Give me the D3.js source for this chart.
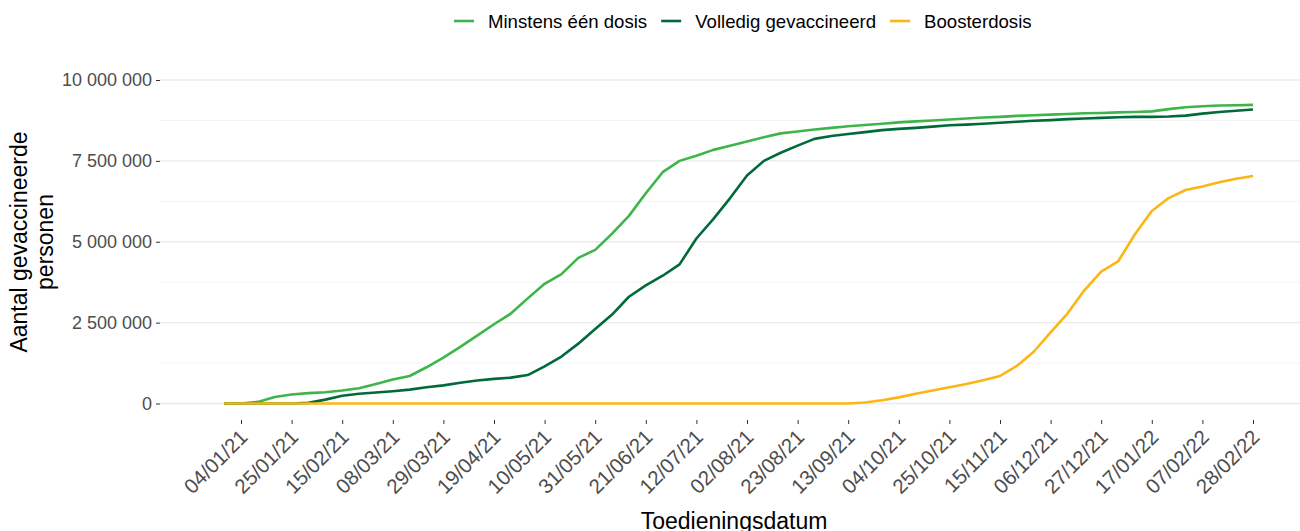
<!DOCTYPE html>
<html>
<head>
<meta charset="utf-8">
<script src="https://cdn.jsdelivr.net/npm/d3@7"></script>
<style>
body { margin: 0; background: #fff; }
* { font-family: 'Liberation Sans', Arial, sans-serif; }
</style>
</head>
<body>
<svg id="chart" width="1300" height="531"></svg>
<script>
// weekly readings (Mondays), values in millions
const weeks = d3.range(62).map(i => d3.utcDay.offset(new Date(Date.UTC(2020, 11, 28)), i * 7));

const eenDosis = [0, 0, 0.05, 0.2, 0.28, 0.32, 0.35, 0.4, 0.47, 0.6,
  0.74, 0.85, 1.12, 1.42, 1.75, 2.1, 2.45, 2.78, 3.25, 3.7,
  4.0, 4.5, 4.75, 5.25, 5.8, 6.5, 7.15, 7.5, 7.66, 7.84,
  7.97, 8.1, 8.23, 8.35, 8.41, 8.47, 8.52, 8.57, 8.61, 8.65,
  8.69, 8.72, 8.75, 8.78, 8.81, 8.84, 8.86, 8.89, 8.91, 8.93,
  8.95, 8.97, 8.98, 9.0, 9.01, 9.03, 9.1, 9.16, 9.19, 9.21,
  9.22, 9.23];

const volledig = [0, 0, 0, 0, 0, 0.02, 0.12, 0.24, 0.3, 0.34,
  0.38, 0.43, 0.5, 0.56, 0.64, 0.71, 0.76, 0.8, 0.88, 1.15,
  1.45, 1.85, 2.3, 2.75, 3.3, 3.65, 3.95, 4.3, 5.1, 5.7,
  6.35, 7.05, 7.5, 7.75, 7.97, 8.18, 8.27, 8.33, 8.39, 8.45,
  8.49, 8.52, 8.56, 8.6, 8.62, 8.65, 8.68, 8.71, 8.74, 8.76,
  8.79, 8.81, 8.83, 8.85, 8.86, 8.86, 8.87, 8.9, 8.96, 9.01,
  9.05, 9.09];

const booster = [0, 0, 0, 0, 0, 0, 0, 0, 0, 0,
  0, 0, 0, 0, 0, 0, 0, 0, 0, 0,
  0, 0, 0, 0, 0, 0, 0, 0, 0, 0,
  0, 0, 0, 0, 0, 0, 0, 0, 0.03, 0.1,
  0.19, 0.3, 0.4, 0.5, 0.6, 0.72, 0.85, 1.16, 1.6, 2.2,
  2.78, 3.5, 4.08, 4.39, 5.23, 5.95, 6.35, 6.6, 6.71, 6.84,
  6.95, 7.03];

const seriesNames = ['Minstens één dosis', 'Volledig gevaccineerd', 'Boosterdosis'];
const seriesColors = ['#3db54a', '#006a3a', '#fbb614'];
const seriesValues = [eenDosis, volledig, booster];

const xTicks = ['04/01/21', '25/01/21', '15/02/21', '08/03/21', '29/03/21', '19/04/21',
  '10/05/21', '31/05/21', '21/06/21', '12/07/21', '02/08/21', '23/08/21', '13/09/21',
  '04/10/21', '25/10/21', '15/11/21', '06/12/21', '27/12/21', '17/01/22', '07/02/22', '28/02/22'];
const yTicks = [0, 2500000, 5000000, 7500000, 10000000];
const yMinor = [1250000, 3750000, 6250000, 8750000];

const parse = d3.utcParse('%d/%m/%y');
const nl = d3.formatLocale({ decimal: ',', thousands: ' ', grouping: [3], currency: ['€', ''] });
const fmt = nl.format(',');

const svg = d3.select('#chart');
const left = 160, right = 1300;

const x = d3.scaleUtc()
  .domain([parse('04/01/21'), parse('28/02/22')])
  .range([241, 1253]);
const y = d3.scaleLinear().domain([0, 10000000]).range([403.5, 80]);

// grid
svg.append('g').selectAll('line').data(yMinor).join('line')
  .attr('x1', left).attr('x2', right)
  .attr('y1', d => y(d)).attr('y2', d => y(d))
  .attr('stroke', '#f0f0f0').attr('stroke-width', 0.8);
svg.append('g').selectAll('line').data(yTicks).join('line')
  .attr('x1', left).attr('x2', right)
  .attr('y1', d => y(d)).attr('y2', d => y(d))
  .attr('stroke', '#ebebeb').attr('stroke-width', 1.4);

// y axis
const yAxis = svg.append('g')
  .attr('transform', `translate(${left},0)`)
  .call(d3.axisLeft(y).tickValues(yTicks).tickFormat(fmt).tickSize(4).tickPadding(4));
yAxis.select('.domain').remove();
yAxis.selectAll('line').attr('stroke', '#333');
yAxis.selectAll('text').attr('fill', '#4d4d4d').style('font-size', '18px')
  .style('font-family', "'Liberation Sans', Arial, sans-serif");

// x axis
const xAxis = svg.append('g')
  .attr('transform', 'translate(0,420)')
  .call(d3.axisBottom(x).tickValues(xTicks.map(parse)).tickFormat(d3.utcFormat('%d/%m/%y')).tickSize(4));
xAxis.select('.domain').remove();
xAxis.selectAll('line').attr('stroke', '#333');
xAxis.selectAll('text')
  .attr('fill', '#4d4d4d').style('font-size', '20.5px')
  .style('font-family', "'Liberation Sans', Arial, sans-serif")
  .attr('text-anchor', 'end')
  .attr('y', 0).attr('dy', '0.72em')
  .attr('transform', 'translate(-3,8) rotate(-45)');

// lines
const line = d3.line()
  .x((d, i) => x(weeks[i]))
  .y(d => y(d * 1e6));
seriesValues.forEach((vals, k) => {
  svg.append('path')
    .datum(vals)
    .attr('d', line)
    .attr('fill', 'none')
    .attr('stroke', seriesColors[k])
    .attr('stroke-width', 2.6)
    .attr('stroke-linejoin', 'round');
});

// titles
svg.append('text')
  .attr('x', 734).attr('y', 529)
  .attr('text-anchor', 'middle')
  .style('font-size', '23px')
  .text('Toedieningsdatum');

const yt = svg.append('text')
  .attr('transform', 'translate(27,242) rotate(-90)')
  .attr('text-anchor', 'middle')
  .style('font-size', '23px');
yt.append('tspan').attr('x', 0).attr('y', 0).text('Aantal gevaccineerde');
yt.append('tspan').attr('x', 0).attr('y', 25.5).text('personen');

// legend
let lx = 454;
seriesNames.forEach((name, k) => {
  svg.append('line')
    .attr('x1', lx).attr('x2', lx + 20)
    .attr('y1', 21).attr('y2', 21)
    .attr('stroke', seriesColors[k]).attr('stroke-width', 2.6);
  const t = svg.append('text')
    .attr('x', lx + 34).attr('y', 27.5)
    .style('font-size', '18.6px')
    .text(name);
  lx += 34 + t.node().getComputedTextLength() + 14;
});
</script>
</body>
</html>
